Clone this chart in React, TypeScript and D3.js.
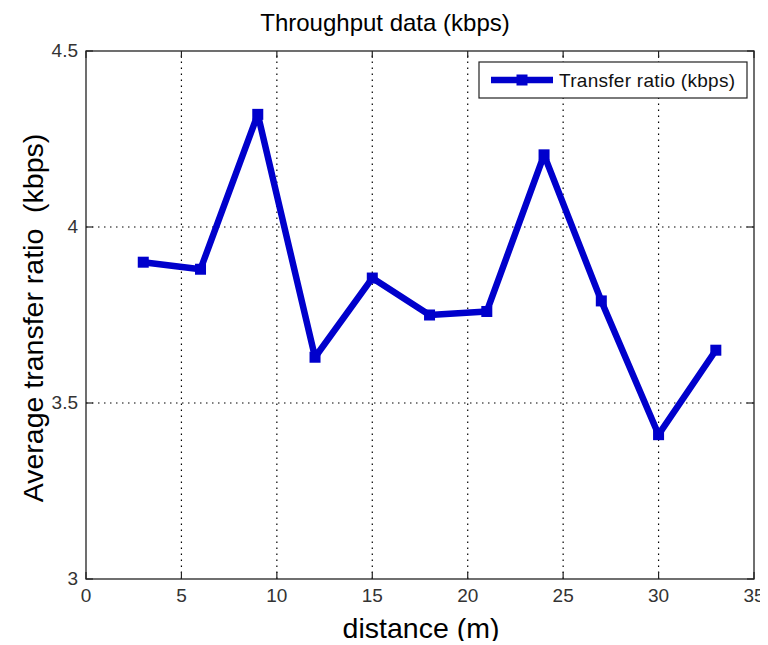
import { useEffect, useRef } from 'react';
import * as d3 from 'd3';

const distances = [3, 6, 9, 12, 15, 18, 21, 24, 27, 30, 33];
const transferRatio = [3.9, 3.88, 4.32, 3.63, 3.855, 3.75, 3.76, 4.205, 3.79, 3.41, 3.65];
const xTicks = [0, 5, 10, 15, 20, 25, 30, 35];
const yTicks = [3, 3.5, 4, 4.5];
const seriesName = 'Transfer ratio (kbps)';

const App = () => {
  const svgRef = useRef<SVGSVGElement>(null);

  useEffect(() => {
    const width = 768, height = 645;
    const margin = { left: 86, right: 14, top: 51, bottom: 66 };
    const svg = d3.select(svgRef.current);
    svg.selectAll('*').remove();
    svg.attr('width', width).attr('height', height);

    const font = 'Arial, "Liberation Sans", sans-serif';
    const x = d3.scaleLinear().domain([0, 35]).range([margin.left, width - margin.right]);
    const y = d3.scaleLinear().domain([3, 4.5]).range([height - margin.bottom, margin.top]);

    svg.append('rect').attr('width', width).attr('height', height).attr('fill', '#fff');

    // grid
    const grid = svg.append('g').attr('stroke', '#000').attr('stroke-width', 1.2).attr('stroke-dasharray', '1.5,4.5');
    xTicks.slice(1, -1).forEach(t => {
      grid.append('line').attr('x1', x(t)).attr('x2', x(t)).attr('y1', y(3)).attr('y2', y(4.5));
    });
    yTicks.slice(1, -1).forEach(t => {
      grid.append('line').attr('y1', y(t)).attr('y2', y(t)).attr('x1', x(0)).attr('x2', x(35));
    });

    // box
    svg.append('rect')
      .attr('x', x(0)).attr('y', y(4.5))
      .attr('width', x(35) - x(0)).attr('height', y(3) - y(4.5))
      .attr('fill', 'none').attr('stroke', '#222').attr('stroke-width', 1.3);

    // ticks (inside, on all four sides)
    const ticks = svg.append('g').attr('stroke', '#222').attr('stroke-width', 1.2);
    xTicks.forEach(t => {
      ticks.append('line').attr('x1', x(t)).attr('x2', x(t)).attr('y1', y(3)).attr('y2', y(3) - 7);
      ticks.append('line').attr('x1', x(t)).attr('x2', x(t)).attr('y1', y(4.5)).attr('y2', y(4.5) + 7);
    });
    yTicks.forEach(t => {
      ticks.append('line').attr('y1', y(t)).attr('y2', y(t)).attr('x1', x(0)).attr('x2', x(0) + 7);
      ticks.append('line').attr('y1', y(t)).attr('y2', y(t)).attr('x1', x(35)).attr('x2', x(35) - 7);
    });

    svg.append('g').selectAll('text').data(xTicks).enter().append('text')
      .attr('x', d => x(d)).attr('y', y(3) + 23)
      .attr('text-anchor', 'middle').attr('font-family', font).attr('font-size', 19).attr('fill', '#333')
      .text(d => String(d));

    svg.append('g').selectAll('text').data(yTicks).enter().append('text')
      .attr('x', x(0) - 8).attr('y', d => y(d) + 6)
      .attr('text-anchor', 'end').attr('font-family', font).attr('font-size', 19).attr('fill', '#333')
      .text(d => String(d));

    // series
    const pts = distances.map((d, i) => [d, transferRatio[i]] as [number, number]);
    const line = d3.line<[number, number]>().x(d => x(d[0])).y(d => y(d[1]));
    svg.append('path').datum(pts)
      .attr('d', line).attr('fill', 'none').attr('stroke', '#0000cc')
      .attr('stroke-width', 6.5).attr('stroke-linejoin', 'round');
    svg.append('g').selectAll('rect').data(pts).enter().append('rect')
      .attr('x', d => x(d[0]) - 5.5).attr('y', d => y(d[1]) - 5.5)
      .attr('width', 11).attr('height', 11).attr('fill', '#0000cc');

    // legend
    const lg = svg.append('g');
    lg.append('rect').attr('x', 479).attr('y', 62).attr('width', 268).attr('height', 36)
      .attr('fill', '#fff').attr('stroke', '#222').attr('stroke-width', 1.2);
    lg.append('line').attr('x1', 491).attr('x2', 553).attr('y1', 80).attr('y2', 80)
      .attr('stroke', '#0000cc').attr('stroke-width', 6.5);
    lg.append('rect').attr('x', 516.5).attr('y', 74.5).attr('width', 11).attr('height', 11).attr('fill', '#0000cc');
    lg.append('text').attr('x', 559).attr('y', 87).attr('font-family', font).attr('font-size', 19)
      .attr('fill', '#111').attr('textLength', 176).text(seriesName);

    // titles
    svg.append('text').attr('x', 385).attr('y', 31).attr('text-anchor', 'middle')
      .attr('font-family', font).attr('font-size', 24).attr('fill', '#000').text('Throughput data (kbps)');
    svg.append('text').attr('x', 421).attr('y', 638).attr('text-anchor', 'middle')
      .attr('font-family', font).attr('font-size', 28.5).attr('fill', '#000').text('distance (m)');
    svg.append('text').attr('transform', 'translate(43,318) rotate(-90)')
      .attr('text-anchor', 'middle').attr('font-family', font).attr('font-size', 28.5).attr('fill', '#000')
      .attr('xml:space', 'preserve').text('Average transfer ratio  (kbps)');
  }, []);

  return (
    <div style={{ margin: -8 }}>
      <svg ref={svgRef}></svg>
    </div>
  );
};

export default App;
